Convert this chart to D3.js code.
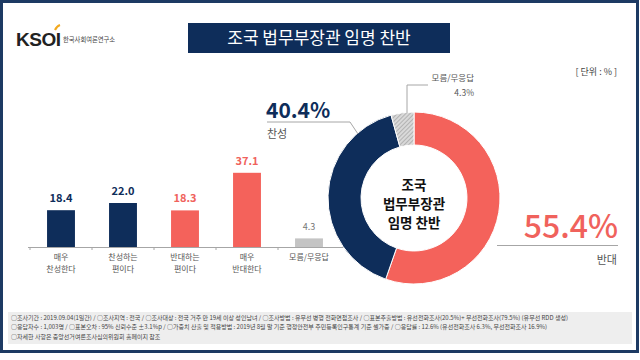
<!DOCTYPE html>
<html><head><meta charset="utf-8">
<script src="https://cdn.jsdelivr.net/npm/d3@7"></script>
<style>
html,body{margin:0;padding:0;background:#fff;}
svg{display:block;font-family:"Noto Sans CJK KR","Noto Sans",sans-serif;}
</style></head>
<body>
<svg id="c" width="640" height="360"></svg>
<script>
const title = "조국 법무부장관 임명 찬반";
const categories = ["매우\n찬성한다","찬성하는\n편이다","반대하는\n편이다","매우\n반대한다","모름/무응답"];
const values = [18.4, 22.0, 18.3, 37.1, 4.3];
const barColors = ["#0e2d5a","#0e2d5a","#f4625b","#f4625b","#c4c4c4"];
const labelColors = ["#0e2d5a","#0e2d5a","#f0625c","#f0625c","#777777"];
const donutLabels = ["반대","찬성","모름/무응답"];
const donutValues = [55.4, 40.4, 4.3];
const donutColors = ["#f4625b","#0e2d5a","url(#hatch)"];
const centerText = ["조국","법무부장관","임명 찬반"];
const unitText = "[ 단위 : % ]";
const footerLines = [
 "○조사기간 : 2019.09.04(1일간)   / ○조사지역 : 전국 / ○조사대상 : 전국 거주 만 19세 이상 성인남녀 / ○조사방법 : 유무선 병행 전화면접조사 / ○표본추출방법 : 유선전화조사(20.5%)+ 무선전화조사(79.5%)  (유무선 RDD 생성)",
 "○응답자수 : 1,003명 / ○표본오차 : 95% 신뢰수준 ±3.1%p / ○가중치 산출 및 적용방법 : 2019년  8월 말 기준 행정안전부 주민등록인구통계 기준  셀가중 / ○응답률 : 12.6% (유선전화조사 6.3%, 무선전화조사 16.9%)",
 "○자세한 사항은 중앙선거여론조사심의위원회 홈페이지 참조"
];

const svg = d3.select("#c");
const defs = svg.append("defs");
const pat = defs.append("pattern").attr("id","hatch").attr("patternUnits","userSpaceOnUse")
  .attr("width",3).attr("height",3).attr("patternTransform","rotate(45)");
pat.append("rect").attr("width",3).attr("height",3).attr("fill","#d9d9d9");
pat.append("line").attr("x1",0).attr("y1",0).attr("x2",0).attr("y2",3).attr("stroke","#8c8c8c").attr("stroke-width",1);

// frame
svg.append("rect").attr("x",1.5).attr("y",1.5).attr("width",636).attr("height",350)
  .attr("fill","#fff").attr("stroke","#1d3a63").attr("stroke-width",3);

// logo
svg.append("text").attr("x",16).attr("y",46).attr("font-size",19).attr("font-weight",600)
  .attr("fill","#222").attr("font-family","'Liberation Sans',Arial,sans-serif").attr("letter-spacing",-0.5).text("KSOI");
svg.append("path").attr("d","M55,30 Q57,26 60,25").attr("stroke","#f2a91e").attr("stroke-width",2.2).attr("fill","none");
svg.append("text").attr("x",63).attr("y",42).attr("font-size",6.3).attr("fill","#444").text("한국사회여론연구소");

// title
svg.append("rect").attr("x",188).attr("y",23).attr("width",262).attr("height",30).attr("fill","#0e2d5a");
svg.append("text").attr("x",319).attr("y",44).attr("text-anchor","middle").attr("font-size",17)
  .attr("fill","#fff").text(title);

// unit
svg.append("text").attr("x",617).attr("y",75).attr("text-anchor","end").attr("font-size",9).attr("fill","#444").text(unitText);

// bar chart
const x = d3.scaleBand().domain(categories).range([30,340]).paddingInner(0.55).paddingOuter(0.275);
const y = d3.scaleLinear().domain([0,40]).range([247,167]);
const g = svg.append("g");
g.append("line").attr("x1",28).attr("x2",345).attr("y1",247.5).attr("y2",247.5).attr("stroke","#a6a6a6");
const step = x.step();
d3.range(categories.length).forEach(i=>{
  const tx = x(categories[i]) - (step - x.bandwidth())/2;
  g.append("line").attr("x1",tx).attr("x2",tx).attr("y1",247.5).attr("y2",250).attr("stroke","#a6a6a6");
});
g.selectAll("rect.bar").data(values).join("rect").attr("class","bar")
  .attr("x",(d,i)=>x(categories[i])).attr("width",x.bandwidth())
  .attr("y",d=>y(d)).attr("height",d=>y(0)-y(d)).attr("fill",(d,i)=>barColors[i]);
g.selectAll("text.val").data(values).join("text").attr("class","val")
  .attr("x",(d,i)=>x(categories[i])+x.bandwidth()/2).attr("y",d=>y(d)-8)
  .attr("text-anchor","middle").attr("font-size",(d,i)=>i===4?9:11).attr("font-weight",(d,i)=>i===4?400:700)
  .attr("fill",(d,i)=>labelColors[i]).text(d=>d.toFixed(1));
categories.forEach((c,i)=>{
  const lines = c.split("\n");
  lines.forEach((l,j)=>{
    g.append("text").attr("x",x(c)+x.bandwidth()/2).attr("y",260+j*11.5).attr("text-anchor","middle")
      .attr("font-size",8).attr("fill","#555").text(l);
  });
});

// donut
const cx = 414, cy = 198, R = 86, r = 53;
const pie = d3.pie().sort(null).value(d=>d);
const arcs = pie(donutValues);
const arc = d3.arc().outerRadius(R).innerRadius(r);
const dg = svg.append("g").attr("transform",`translate(${cx},${cy})`);
dg.selectAll("path").data(arcs).join("path").attr("d",arc)
  .attr("fill",(d,i)=>donutColors[i]).attr("stroke","#fff").attr("stroke-width",1);
centerText.forEach((t,i)=>{
  dg.append("text").attr("x",0).attr("y",-8+i*19).attr("text-anchor","middle")
    .attr("font-size",13.5).attr("font-weight",700).attr("fill","#111").text(t);
});

// annotations
const lc = "#a6a6a6";
svg.append("polyline").attr("points","267,122 350,122 358,134").attr("fill","none").attr("stroke",lc);
svg.append("text").attr("x",266).attr("y",118).attr("font-size",21).attr("font-weight",700)
  .attr("fill","#0e2d5a").text(donutValues[1].toFixed(1)+"%");
svg.append("text").attr("x",267).attr("y",138).attr("font-size",11).attr("fill","#555").text(donutLabels[1]);
svg.append("polyline").attr("points","407,113 407,85 428,85").attr("fill","none").attr("stroke",lc);
svg.append("text").attr("x",474).attr("y",81).attr("text-anchor","end").attr("font-size",8.5).attr("fill","#555").text(donutLabels[2]);
svg.append("text").attr("x",474).attr("y",96).attr("text-anchor","end").attr("font-size",8.5).attr("fill","#555").text(donutValues[2].toFixed(1)+"%");
svg.append("line").attr("x1",497).attr("x2",618).attr("y1",245.5).attr("y2",245.5).attr("stroke",lc);
svg.append("text").attr("x",618).attr("y",238).attr("text-anchor","end").attr("font-size",32).attr("font-weight",500)
  .attr("fill","#f0625c").text(donutValues[0].toFixed(1)+"%");
svg.append("text").attr("x",617).attr("y",264).attr("text-anchor","end").attr("font-size",11).attr("fill","#555").text(donutLabels[0]);

// footer
svg.append("rect").attr("x",8).attr("y",312).attr("width",624).attr("height",32).attr("fill","#eeeeee");
footerLines.forEach((l,i)=>{
  svg.append("text").attr("x",11).attr("y",320+i*9.3).attr("font-size",6).attr("fill","#444").text(l);
});
</script>
</body></html>
